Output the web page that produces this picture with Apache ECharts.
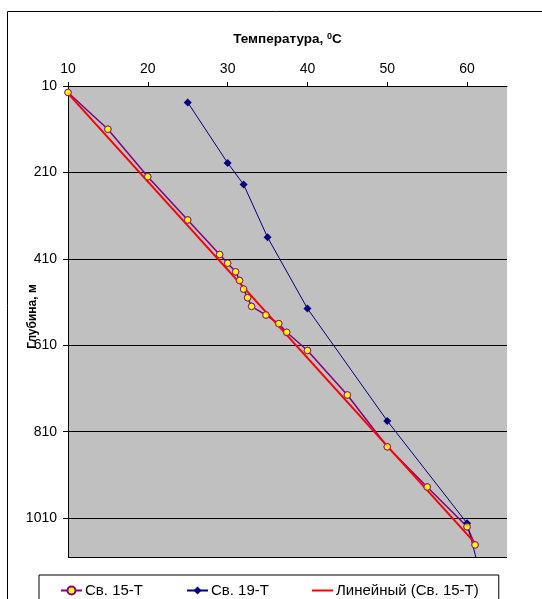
<!DOCTYPE html>
<html>
<head>
<meta charset="utf-8">
<script src="https://cdn.jsdelivr.net/npm/echarts@6/dist/echarts.min.js"></script>
<style>
  html, body { margin: 0; padding: 0; background: #fff; }
  #chart { width: 542px; height: 599px; }
</style>
</head>
<body>
<div id="chart"></div>
<script>
// Св. 15-Т
const temp15 = [10, 15, 20, 25, 29, 30, 31, 31.5, 32, 32.5, 33, 34.8, 36.4, 37.4, 40, 45, 50, 55, 60, 61];
const depth15 = [25, 110, 220, 320, 400, 420, 440, 460, 480, 500, 520, 540, 560, 580, 622, 725, 845, 938, 1030, 1072];
// Св. 19-Т
const temp19 = [25, 30, 32, 35, 40, 50, 60, 62.5];
const depth19 = [48, 188, 238, 360, 525, 785, 1022, 1200];
// Линейный (Св. 15-Т) - концы линии тренда
const trendTemp = [10, 61];
const trendDepth = [27, 1068];

const xTicks = [10, 20, 30, 40, 50, 60];
const yTicks = [10, 210, 410, 610, 810, 1010];

const font = '"Liberation Sans", Arial, sans-serif';
const pairs = (xs, ys) => xs.map((x, i) => [x, ys[i]]);

const chart = echarts.init(document.getElementById('chart'));
chart.setOption({
    backgroundColor: '#fff',
    animation: false,
    textStyle: { fontFamily: font },
    grid: {
        left: 68, right: 35, top: 86, bottom: 42,
        outerBoundsMode: 'none',
        containLabel: false,
        show: true, backgroundColor: '#C0C0C0', borderWidth: 0
    },
    graphic: [
        {
            type: 'rect',
            shape: { x: 7.5, y: 11.5, width: 600, height: 620 },
            style: { fill: 'none', stroke: '#000', lineWidth: 1 },
            silent: true
        }
    ],
    legend: {
        data: [
            { name: 'Св. 15-Т' },
            { name: 'Св. 19-Т' },
            { name: 'Линейный (Св. 15-Т)', icon: 'path://M0,0L21,0L21,2L0,2Z' }
        ],
        left: 39, top: 575,
        padding: [8, 20, 8, 21],
        itemGap: 43,
        itemWidth: 21, itemHeight: 10,
        borderColor: '#000', borderWidth: 1,
        textStyle: { fontFamily: font, fontSize: 15, color: '#000', padding: [0, 0, 0, -2] }
    },
    xAxis: {
        type: 'value',
        position: 'top',
        min: 10, max: 65, interval: 10,
        name: '{a|Температура, }{s|0}{a|C}',
        nameLocation: 'middle',
        nameGap: 39,
        nameMoveOverlap: false,
        nameTextStyle: {
            rich: {
                a: { fontFamily: font, fontSize: 13.5, fontWeight: 'bold', color: '#000' },
                s: { fontFamily: font, fontSize: 9, fontWeight: 'bold', color: '#000', padding: [0, 0, 6, 0] }
            }
        },
        axisLine: { show: true, lineStyle: { color: '#000', width: 1 } },
        axisTick: { show: true, inside: false, length: 4, lineStyle: { color: '#000' } },
        axisLabel: {
            color: '#000', fontSize: 14, margin: 10, showMaxLabel: false,
            formatter: v => (xTicks.includes(v) ? String(v) : '')
        },
        splitLine: { show: false }
    },
    yAxis: {
        type: 'value',
        inverse: true,
        min: 10, max: 1100, interval: 200,
        name: 'Глубина, м',
        nameLocation: 'middle',
        nameRotate: 90,
        nameGap: 29,
        nameMoveOverlap: false,
        nameTextStyle: { fontFamily: font, fontSize: 12, fontWeight: 'bold', color: '#000', padding: [0, 0, 0, 10] },
        axisLine: { show: true, lineStyle: { color: '#000', width: 1 } },
        axisTick: { show: true, inside: false, length: 5, lineStyle: { color: '#000' } },
        axisLabel: {
            color: '#000', fontSize: 14, margin: 11, showMaxLabel: false,
            formatter: v => (yTicks.includes(v) ? String(v) : '')
        },
        splitLine: { show: true, lineStyle: { color: '#000', width: 1 } }
    },
    series: [
        {
            name: 'Св. 15-Т',
            type: 'line',
            data: pairs(temp15, depth15),
            symbol: 'circle', symbolSize: 6.5,
            lineStyle: { color: '#800080', width: 1.5 },
            itemStyle: { color: '#FFFF00', borderColor: '#800080', borderWidth: 1 },
            z: 2
        },
        {
            name: 'Св. 19-Т',
            type: 'line',
            data: pairs(temp19, depth19),
            symbol: 'diamond', symbolSize: 8,
            clip: true,
            lineStyle: { color: '#000080', width: 1 },
            itemStyle: { color: '#000080' },
            z: 2
        },
        {
            name: 'Линейный (Св. 15-Т)',
            type: 'line',
            data: pairs(trendTemp, trendDepth),
            symbol: 'none',
            lineStyle: { color: '#FF0000', width: 2 },
            itemStyle: { color: '#FF0000' },
            z: 3
        },
        {
            name: '_markers15',
            type: 'scatter',
            data: pairs(temp15, depth15),
            symbol: 'circle', symbolSize: 6.5,
            itemStyle: { color: '#FFFF00', borderColor: '#800080', borderWidth: 1 },
            z: 4
        }
    ]
});
</script>
</body>
</html>
